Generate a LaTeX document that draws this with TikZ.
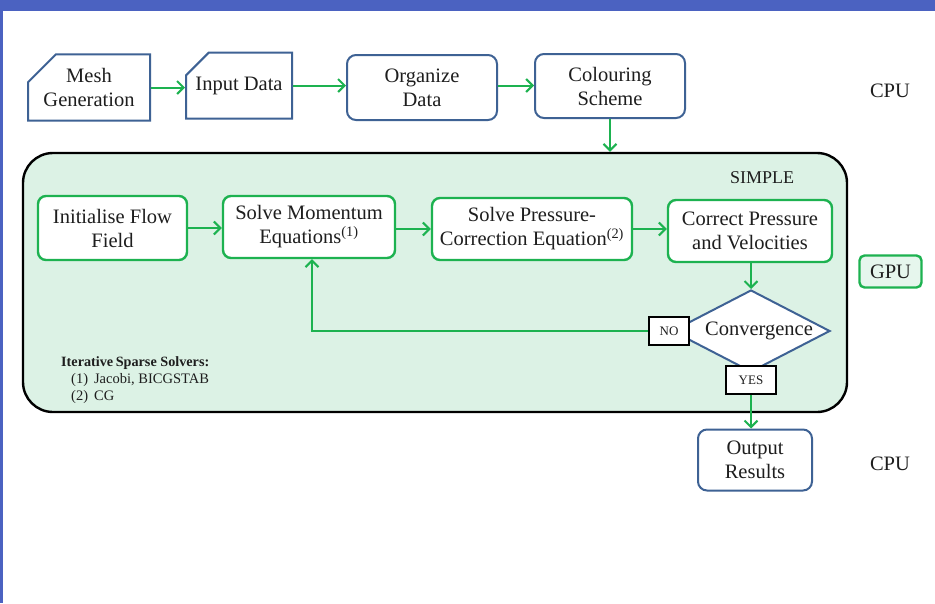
\documentclass[tikz,border=0pt]{standalone}
\usepackage{fontspec}
\setmainfont{Liberation Serif}
\usetikzlibrary{arrows.meta,shapes.misc,shapes.geometric}
\definecolor{barblue}{RGB}{75,98,193}
\definecolor{boxblue}{RGB}{62,98,148}
\definecolor{flowgreen}{RGB}{29,178,80}
\definecolor{simplefill}{RGB}{220,242,229}
\definecolor{txt}{RGB}{30,30,30}
\begin{document}
\begin{tikzpicture}[x=1pt,y=-1pt,
  every node/.style={text=txt, inner sep=0pt, align=center},
  lbl/.style={font=\fontsize{20.5}{24}\selectfont},
  cpubox/.style={lbl, draw=boxblue, line width=2pt, fill=white},
  cutbox/.style={cpubox, chamfered rectangle, chamfered rectangle corners=north west,
    chamfered rectangle xsep=14pt, chamfered rectangle ysep=14pt},
  roundbox/.style={cpubox, rounded corners=9pt, rectangle},
  gpubox/.style={lbl, rectangle, draw=flowgreen, line width=2.4pt, fill=white, rounded corners=8pt},
  tag/.style={draw=black, line width=1.6pt, fill=white, font=\fontsize{13}{15}\selectfont},
  flow/.style={draw=flowgreen, line width=2pt, -{Straight Barb[length=6.5pt,width=13pt]}},
  flowline/.style={draw=flowgreen, line width=2pt}]

% page frame
\useasboundingbox (0,0) rectangle (935,603);
\fill[white] (0,0) rectangle (935,603);
\fill[barblue] (0,0) rectangle (935,10.5);
\fill[barblue] (0,0) rectangle (3,603);

% CPU pre-processing chain
\node[cutbox, minimum width=122pt, minimum height=65pt] (mesh) at (89,87.5) {Mesh\\Generation};
\node[cutbox, minimum width=106pt, minimum height=66pt] (input) at (239,85.5) {Input Data};
\node[roundbox, minimum width=150pt, minimum height=65pt] (org) at (422,87.5) {Organize\\Data};
\node[roundbox, minimum width=150pt, minimum height=64pt] (col) at (610,86) {Colouring\\Scheme};

% SIMPLE loop container
\node[draw=black, line width=2.4pt, fill=simplefill, rounded corners=30pt,
      minimum width=824pt, minimum height=259pt] (simple) at (435,282.5) {};
\node[font=\fontsize{18}{20}\selectfont] (simplelbl) at (762,178) {SIMPLE};

\node[gpubox, minimum width=149pt, minimum height=64pt] (init) at (112.5,228) {Initialise Flow\\Field};
\node[gpubox, minimum width=172pt, minimum height=62pt] (mom) at (309,227) {Solve Momentum\\Equations\textsuperscript{(1)}};
\node[gpubox, minimum width=200pt, minimum height=62pt] (press) at (532,229) {Solve Pressure-\\Correction Equation\textsuperscript{(2)}};
\node[gpubox, minimum width=164pt, minimum height=62pt] (corr) at (750,231) {Correct Pressure\\and Velocities};

\node[diamond, draw=boxblue, line width=2pt, fill=white, minimum width=158pt, minimum height=82pt,
      lbl] (conv) at (751,331) {};
\node[lbl] (convlbl) at (759,331) {Convergence};
\node[tag, minimum width=40pt, minimum height=28pt] (no) at (669,331) {NO};
\node[tag, minimum width=50pt, minimum height=28pt] (yes) at (751,380) {YES};

% solver legend
\node[anchor=base west, font=\bfseries\fontsize{14.2}{16}\selectfont] (leg) at (61,366) {Iterative\hspace{-1pt} Sparse Solvers:};
\node[anchor=base west, font=\fontsize{14.5}{16}\selectfont] (leg1) at (71,383) {(1)\hspace{6pt}Jacobi, BICGSTAB};
\node[anchor=base west, font=\fontsize{14.5}{16}\selectfont] (leg2) at (71,400) {(2)\hspace{6pt}CG};

% CPU post-processing
\node[roundbox, minimum width=114pt, minimum height=61pt] (out) at (755,460) {Output\\Results};

% side labels
\node[lbl] (cpu1) at (890,91) {CPU};
\node[lbl, draw=flowgreen, line width=2.4pt, fill=simplefill!70!white, rounded corners=5pt,
      minimum width=62pt, minimum height=32pt] (gpu) at (890.5,271.5) {GPU};
\node[lbl] (cpu2) at (890,464) {CPU};

% connectors
\draw[flow] (mesh.east) -- (input.west |- mesh.east);
\draw[flow] (input.east) -- (org.west |- input.east);
\draw[flow] (org.east |- input.east) -- (col.west |- input.east);
\draw[flow] (col.south) -- (col.south |- simple.north);
\draw[flow] (init.east) -- (mom.west |- init.east);
\draw[flow] (mom.east |- press.west) -- (press.west);
\draw[flow] (press.east) -- (corr.west |- press.east);
\draw[flow] (conv.north |- corr.south) -- (conv.north);
\draw[flow] (no.west) -| ([xshift=3pt]mom.south);
\draw[flow] (yes.south) -- (yes.south |- out.north);
\end{tikzpicture}
\end{document}
